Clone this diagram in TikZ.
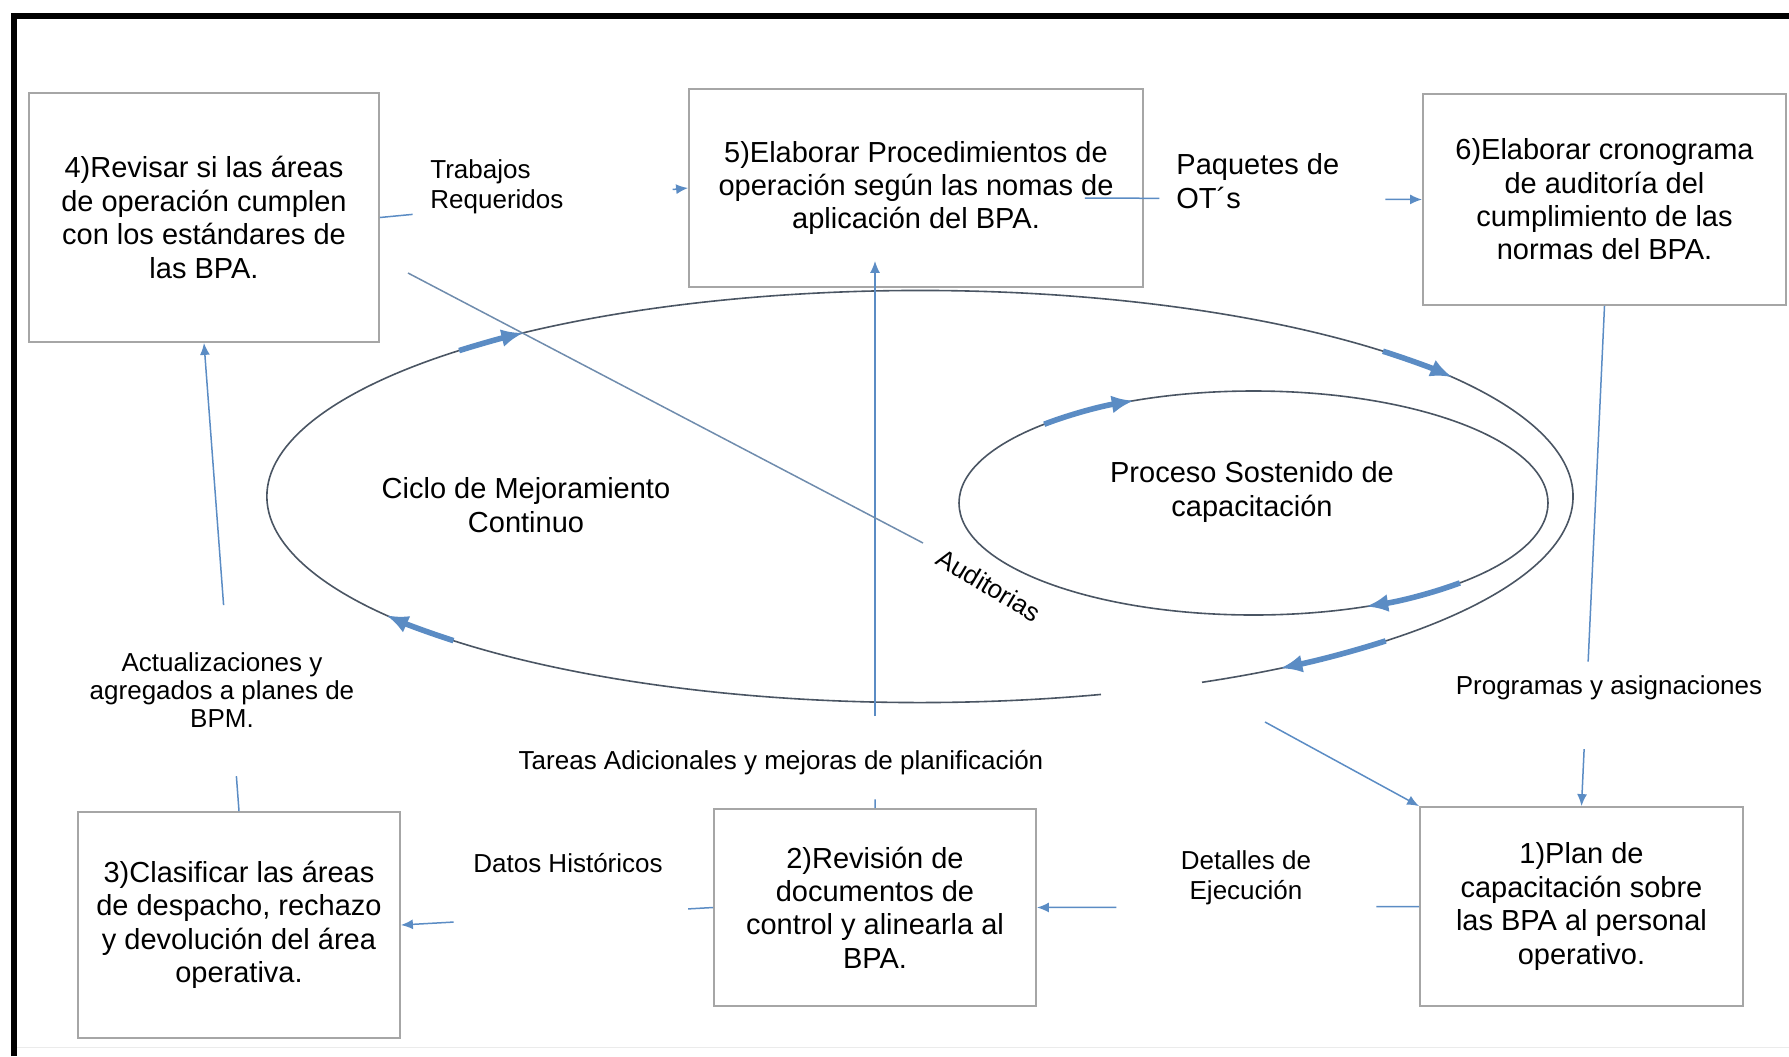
\documentclass[tikz,border=0pt]{standalone}
\usepackage{fontspec}
\setmainfont{Liberation Sans}
\usetikzlibrary{arrows.meta,calc}
\definecolor{boxgray}{HTML}{A6A6A6}
\definecolor{flecha}{HTML}{5B8CC4}
\definecolor{lineaciclo}{HTML}{4A5563}
\definecolor{audgris}{HTML}{6F8CAD}
\tikzset{
    paso/.style={draw=boxgray, line width=0.9pt, align=center, inner sep=0pt, font=\fontsize{14.5}{16.7}\selectfont},
    etiq/.style={inner sep=0pt, align=center, font=\fontsize{13}{15}\selectfont},
    grande/.style={font=\fontsize{14.5}{17}\selectfont},
    conn/.style={draw=flecha, line width=0.75pt},
    punta/.style={conn, -{Latex[length=6pt,width=5pt]}},
    ciclo/.style={draw=lineaciclo, line width=0.8pt},
    giro/.style={draw=flecha, line width=2.8pt, -{Latex[length=11pt,width=9pt]}}
}
\begin{document}
\begin{tikzpicture}[x=0.5pt, y=-0.5pt]
    \useasboundingbox (0,0) rectangle (1789,1056);
    \draw [line width=3pt] (13.5,1056) -- (13.5,15.5) -- (1789,15.5);
    \draw [black!8] (17,1047) -- (1789,1047);

    \node[paso, minimum width=175pt, minimum height=124.5pt] (P4) at (204,217.5) {4)Revisar si las áreas\\de operación cumplen\\con los estándares de\\las BPA.};
    \node[paso, minimum width=227pt, minimum height=99pt] (P5) at (916,188) {5)Elaborar Procedimientos de\\operación según las nomas de\\aplicación del BPA.};
    \node[paso, minimum width=181.5pt, minimum height=105.5pt] (P6) at (1604.5,199.5) {6)Elaborar cronograma\\de auditoría del\\cumplimiento de las\\normas del BPA.};
    \node[paso, minimum width=161pt, minimum height=113pt] (P3) at (239,925) {3)Clasificar las áreas\\de despacho, rechazo\\y devolución del área\\operativa.};
    \node[paso, minimum width=161pt, minimum height=98.5pt] (P2) at (875,907.5) {2)Revisión de\\documentos de\\control y alinearla al\\BPA.};
    \node[paso, minimum width=161.5pt, minimum height=99.5pt] (P1) at (1581.5,906.5) {1)Plan de\\capacitación sobre\\las BPA al personal\\operativo.};

    \draw [ciclo] (920,496.5) ++(73.91:653 and 206) arc[start angle=73.91, end angle=424.41, x radius=653, y radius=206];
    \draw [ciclo] (1253.5,503) ellipse[x radius=294.5, y radius=112];

    \draw [giro] (920,496.5) ++(225.1:653 and 206) arc[start angle=225.1, end angle=232.6, x radius=653, y radius=206];
    \draw [giro] (920,496.5) ++(315.15:653 and 206) arc[start angle=315.15, end angle=324.6, x radius=653, y radius=206];
    \draw [giro] (920,496.5) ++(44.5:653 and 206) arc[start angle=44.5, end angle=56.5, x radius=653, y radius=206];
    \draw [giro] (920,496.5) ++(135.6:653 and 206) arc[start angle=135.6, end angle=144.8, x radius=653, y radius=206];
    \draw [giro] (1253.5,503) ++(224.7:294.5 and 112) arc[start angle=224.7, end angle=246, x radius=294.5, y radius=112];
    \draw [giro] (1253.5,503) ++(45.5:294.5 and 112) arc[start angle=45.5, end angle=67.5, x radius=294.5, y radius=112];

    \coordinate (Q) at ([shift={(-59,10)}]P5.east);
    \coordinate (R0) at (P2.north |- P5.south);
    \coordinate (R) at ([yshift=13.5pt]R0);
    \coordinate (G) at (1265,722);
    \coordinate (A1) at (408,273);
    \coordinate (A2) at (923,543);

    \draw [conn] (P4.east) -- ($(P4.east)!0.106!(P5.west)$);
    \draw [punta] ($(P4.east)!0.95!(P5.west)$) -- (P5.west);
    \draw [conn] (Q) -- ($(Q)!0.221!(P6.west)$);
    \draw [punta] ($(Q)!0.891!(P6.west)$) -- (P6.west);
    \draw [conn] (P6.south) -- ($(P6.south)!0.711!(P1.north)$);
    \draw [punta] ($(P6.south)!0.886!(P1.north)$) -- (P1.north);
    \draw [conn] (P1.west) -- ($(P1.west)!0.112!(P2.east)$);
    \draw [punta] ($(P1.west)!0.792!(P2.east)$) -- (P2.east);
    \draw [conn] (P2.west) -- ($(P2.west)!0.08!(P3.east)$);
    \draw [punta] ($(P2.west)!0.831!(P3.east)$) -- (P3.east);
    \draw [conn] (P3.north) -- ($(P3.north)!0.0745!(P4.south)$);
    \draw [punta] ($(P3.north)!0.44!(P4.south)$) -- (P4.south);
    \draw [conn] (P2.north) -- ($(P2.north)!0.016!(R)$);
    \draw [punta] ($(P2.north)!0.168!(R)$) -- (R);
    \draw [punta] (G) -- (P1.north west);
    \draw [draw=audgris, line width=0.75pt] (A1) -- (A2);

    \node[etiq, anchor=west, align=left] (Trab) at (430,187) {Trabajos\\Requeridos};
    \node[etiq, grande, anchor=west, align=left] (Paq) at (1176,181) {Paquetes de\\OT´s};
    \node[etiq] (Prog) at (1609,688) {Programas y asignaciones};
    \node[etiq] (Det) at (1246,878) {Detalles de\\Ejecución};
    \node[etiq] (Dat) at (568,863) {Datos Históricos};
    \node[etiq, font=\fontsize{13}{14}\selectfont] (Act) at (222,690) {Actualizaciones y\\agregados a planes de\\BPM.};
    \node[etiq] (Tar) at (781,763) {Tareas Adicionales y mejoras de planificación};
    \node[etiq, rotate=-31] (Aud) at (989,585) {Auditorias};
    \node[etiq, grande] (Ciclo) at (526,505) {Ciclo de Mejoramiento\\Continuo};
    \node[etiq, grande] (Proc) at (1252,492) {Proceso Sostenido de\\capacitación};
\end{tikzpicture}
\end{document}
